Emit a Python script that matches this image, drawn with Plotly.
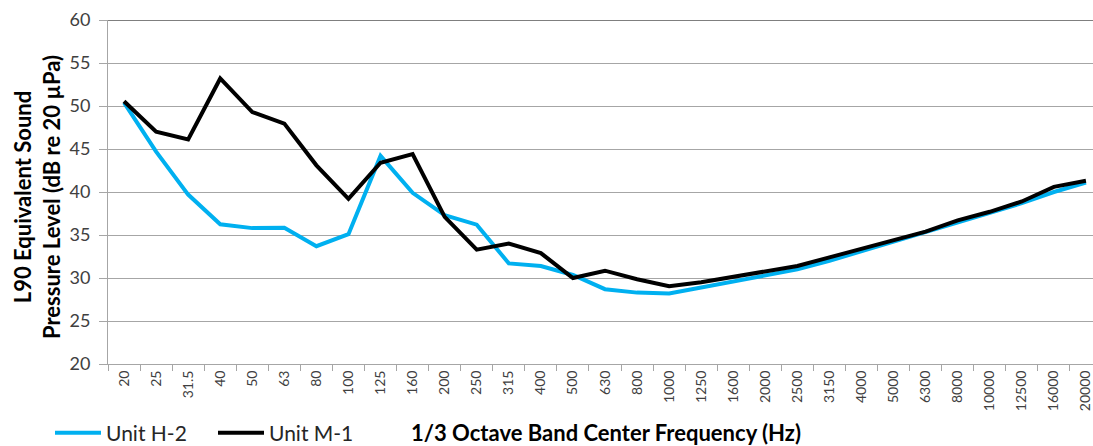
import plotly.graph_objects as go

freqs = ["20", "25", "31.5", "40", "50", "63", "80", "100", "125", "160", "200", "250",
         "315", "400", "500", "630", "800", "1000", "1250", "1600", "2000", "2500",
         "3150", "4000", "5000", "6300", "8000", "10000", "12500", "16000", "20000"]

unit_h2 = [50.4, 44.7, 39.7, 36.25, 35.8, 35.85, 33.7, 35.1, 44.2, 39.9, 37.3, 36.2,
           31.7, 31.4, 30.35, 28.7, 28.3, 28.2, 28.9, 29.6, 30.3, 31.0, 32.0, 33.1,
           34.2, 35.3, 36.4, 37.6, 38.7, 40.0, 41.1]

unit_m1 = [50.55, 47.0, 46.1, 53.2, 49.3, 47.95, 43.1, 39.2, 43.4, 44.4, 37.1, 33.3,
           34.0, 32.9, 30.0, 30.85, 29.85, 29.05, 29.5, 30.1, 30.7, 31.4, 32.4, 33.4,
           34.4, 35.4, 36.7, 37.7, 38.9, 40.6, 41.3]

y_ticks = [20, 25, 30, 35, 40, 45, 50, 55, 60]

FONT = "Lato"
W, H = 1093, 446
L, R, T, B = 108, 0, 20, 82

fig = go.Figure()
fig.add_trace(go.Scatter(x=freqs, y=unit_h2, mode="lines", name="Unit H-2",
                         line=dict(color="#00B0F0", width=4)))
fig.add_trace(go.Scatter(x=freqs, y=unit_m1, mode="lines", name="Unit M-1",
                         line=dict(color="#000000", width=4)))

plot_w = W - L - R
plot_h = H - T - B

fig.update_layout(
    width=W, height=H,
    margin=dict(l=L, r=R, t=T, b=B, autoexpand=False),
    paper_bgcolor="white", plot_bgcolor="white",
    font=dict(family=FONT, color="#404040"),
    showlegend=True,
    legend=dict(orientation="h", x=(50 - L) / plot_w, xanchor="left",
                y=(364 - 433) / plot_h, yanchor="middle",
                font=dict(size=21, color="#262626", family=FONT),
                itemwidth=46, entrywidth=102, entrywidthmode="pixels",
                tracegroupgap=0, bgcolor="rgba(0,0,0,0)"),
    xaxis=dict(
        type="category", range=[-0.5, 30.22], automargin=False,
        showgrid=False, showline=True, linecolor="#A6A6A6", linewidth=1,
        ticks="outside", tickson="boundaries", ticklen=6, tickcolor="#A6A6A6",
        tickangle=-90, tickfont=dict(size=14, color="#404040", family=FONT),
        fixedrange=True,
    ),
    yaxis=dict(
        range=[20, 60], tickvals=y_ticks, automargin=False,
        showgrid=True, gridcolor="#A6A6A6", gridwidth=1,
        showline=True, linecolor="#A6A6A6", linewidth=1,
        ticks="outside", ticklen=8, tickcolor="#A6A6A6", ticklabelstandoff=5,
        tickfont=dict(size=18, color="#404040", family=FONT),
        zeroline=False,
    ),
    shapes=[dict(type="line", xref="paper", yref="y", x0=0, x1=1, y0=60, y1=60,
                 line=dict(color="#000000", width=1))],
    annotations=[
        dict(text="<b>L90 Equivalent Sound<br>Pressure Level (dB re 20 µPa)</b>",
             xref="paper", yref="paper", x=(37 - L) / plot_w, y=(364 - 197) / plot_h,
             xanchor="center", yanchor="middle", textangle=-90, showarrow=False,
             font=dict(size=22, color="#000000", family=FONT)),
        dict(text="<b>1/3 Octave Band Center Frequency (Hz)</b>",
             xref="paper", yref="paper", x=(606 - L) / plot_w, y=(364 - 433) / plot_h,
             xanchor="center", yanchor="middle", showarrow=False,
             font=dict(size=22, color="#000000", family=FONT)),
    ],
)

fig.write_html(
    "out.html",
    config={"displayModeBar": False},
    post_script="document.body.style.margin='0';document.body.style.overflow='hidden';",
)
